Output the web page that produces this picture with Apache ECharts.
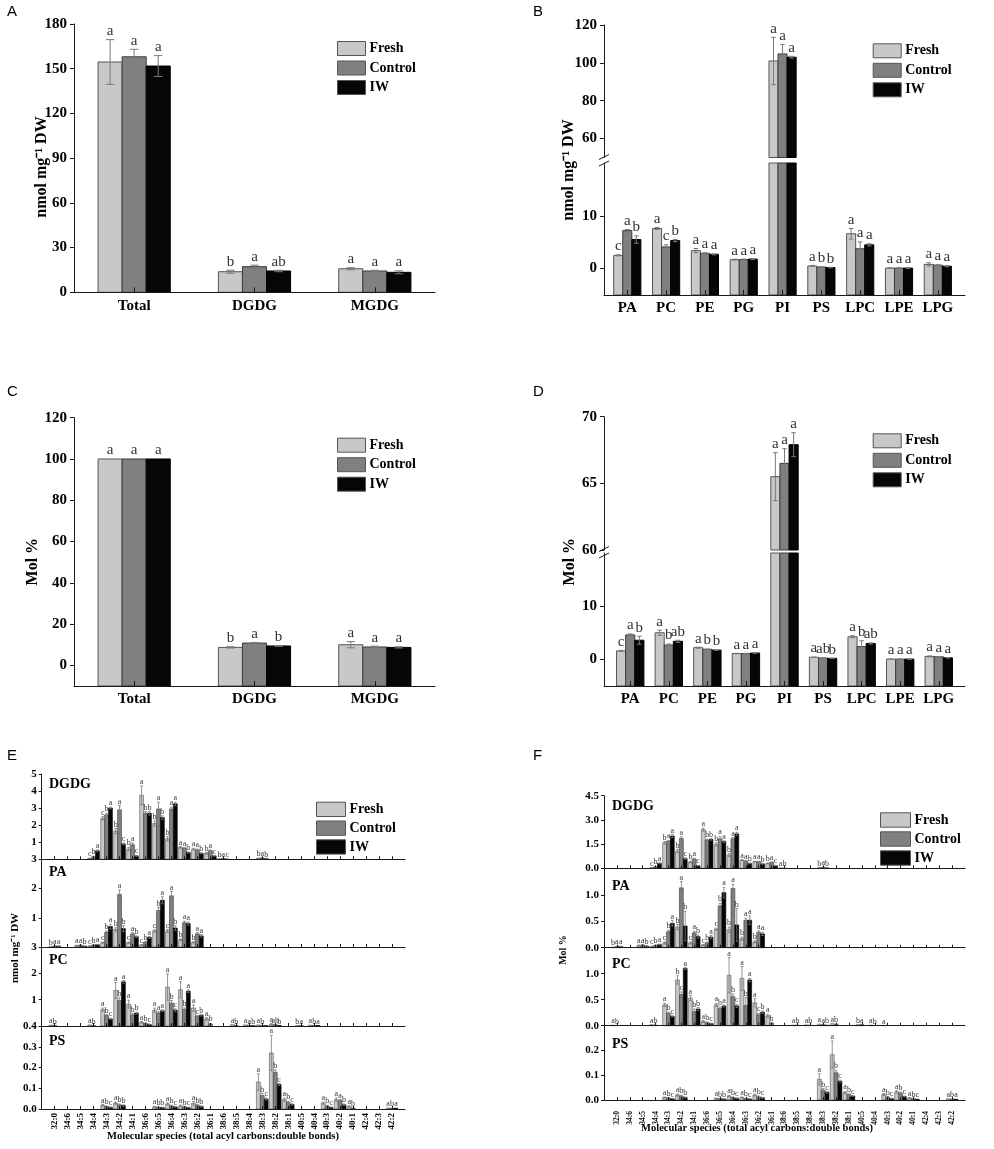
<!DOCTYPE html>
<html><head><meta charset="utf-8">
<script src="https://cdn.jsdelivr.net/npm/echarts@6/dist/echarts.min.js"></script>
<style>html,body{margin:0;padding:0;background:#fff}#c{width:994px;height:1149px}</style>
</head><body><div id="c"></div>
<script>
// ---------------- DATA ----------------
const TREAT = ['Fresh', 'Control', 'IW'];
const catsAC = ['Total', 'DGDG', 'MGDG'];
const catsBD = ['PA', 'PC', 'PE', 'PG', 'PI', 'PS', 'LPC', 'LPE', 'LPG'];
const species = ['32:0','34:6','34:5','34:4','34:3','34:2','34:1','36:6','36:5','36:4','36:3','36:2','36:1','38:6','38:5','38:4','38:3','38:2','38:1','40:5','40:4','40:3','40:2','40:1','42:4','42:3','42:2'];

// tick labels
const A_yTicks = [0, 30, 60, 90, 120, 150, 180];
const C_yTicks = [0, 20, 40, 60, 80, 100, 120];
const B_upTicks = [60, 80, 100, 120];
const B_lowTicks = [0, 10];
const D_upTicks = [60, 65, 70];
const D_lowTicks = [0, 10];

// Panel A (nmol mg-1 DW)
const A_fresh = [154.5, 13.8, 15.8], A_fresh_err = [15, 1, 0.7], A_fresh_let = ['a', 'b', 'a'];
const A_control = [158, 17.2, 14.3], A_control_err = [5, 1, 0.5], A_control_let = ['a', 'a', 'a'];
const A_iw = [151.8, 14.3, 13.4], A_iw_err = [7, 0.5, 1], A_iw_let = ['a', 'ab', 'a'];

// Panel C (Mol %)
const C_fresh = [100, 8.7, 10.0], C_fresh_err = [0, 0.3, 1.5], C_fresh_let = ['a', 'b', 'a'];
const C_control = [100, 10.8, 8.9], C_control_err = [0, 0.3, 0.4], C_control_let = ['a', 'a', 'a'];
const C_iw = [100, 9.4, 8.7], C_iw_err = [0, 0.2, 0.3], C_iw_let = ['a', 'b', 'a'];

// Panel B (nmol mg-1 DW)
const B_fresh = [2.5, 7.6, 3.4, 1.7, 101, 0.5, 6.6, 0.1, 0.8];
const B_control = [7.2, 4.1, 2.9, 1.7, 104.7, 0.3, 3.75, 0.1, 0.65];
const B_iw = [5.5, 5.3, 2.7, 1.8, 103, 0.2, 4.5, 0.1, 0.45];
const B_fresh_err = [0.1, 0.2, 0.4, 0.1, 12.5, 0.1, 1.0, 0.05, 0.3];
const B_control_err = [0.2, 0.4, 0.1, 0.1, 5, 0.05, 1.3, 0.05, 0.1];
const B_iw_err = [0.7, 0.2, 0.1, 0.1, 0.5, 0.05, 0.2, 0.05, 0.1];
const B_fresh_let = ['c', 'a', 'a', 'a', 'a', 'a', 'a', 'a', 'a'];
const B_control_let = ['a', 'c', 'a', 'a', 'a', 'b', 'a', 'a', 'a'];
const B_iw_let = ['b', 'b', 'a', 'a', 'a', 'b', 'a', 'a', 'a'];

// Panel D (Mol %)
const D_fresh = [1.6, 5.0, 2.2, 1.1, 65.5, 0.4, 4.25, 0.05, 0.56];
const D_control = [4.6, 2.7, 1.9, 1.1, 66.5, 0.25, 2.4, 0.05, 0.5];
const D_iw = [3.6, 3.4, 1.75, 1.2, 67.9, 0.2, 3.0, 0.05, 0.3];
const D_fresh_err = [0.1, 0.5, 0.1, 0.05, 1.8, 0.05, 0.2, 0.02, 0.1];
const D_control_err = [0.2, 0.2, 0.05, 0.05, 1.1, 0.05, 1.1, 0.02, 0.05];
const D_iw_err = [0.75, 0.2, 0.05, 0.05, 0.9, 0.03, 0.1, 0.02, 0.05];
const D_fresh_let = ['c', 'a', 'a', 'a', 'a', 'a', 'a', 'a', 'a'];
const D_control_let = ['a', 'b', 'b', 'a', 'a', 'ab', 'b', 'a', 'a'];
const D_iw_let = ['b', 'ab', 'b', 'a', 'a', 'b', 'ab', 'a', 'a'];

// Panel E (nmol mg-1 DW), molecular species
const E_DGDG_fresh   = [0,0,0,0.05,2.4,1.65,0.6,3.75,2.1,1.2,0.7,0.6,0.35,0.03,0,0,0.05,0,0,0,0,0,0,0,0,0,0];
const E_DGDG_control = [0,0,0,0.15,2.6,2.9,0.85,2.7,2.95,2.95,0.65,0.55,0.5,0.05,0,0,0.08,0,0,0,0,0,0,0,0,0,0];
const E_DGDG_iw      = [0,0,0,0.5,3.0,0.9,0.2,2.7,2.45,3.25,0.4,0.35,0.2,0.01,0,0,0.04,0,0,0,0,0,0,0,0,0,0];
const E_DGDG_fresh_err   = [0,0,0,0.02,0.1,0.15,0.1,0.55,0.15,0.12,0.05,0.05,0.05,0,0,0,0.02,0,0,0,0,0,0,0,0,0,0];
const E_DGDG_control_err = [0,0,0,0.03,0.1,0.25,0.1,0.1,0.4,0.1,0.03,0.05,0.05,0,0,0,0.02,0,0,0,0,0,0,0,0,0,0];
const E_DGDG_iw_err      = [0,0,0,0.05,0.05,0.05,0.03,0.1,0.1,0.1,0.03,0.03,0.02,0,0,0,0.01,0,0,0,0,0,0,0,0,0,0];
const E_DGDG_fresh_let   = ['','','','c','c','b','b','a','b','b','a','a','b','b','','','b','','','','','','','','','',''];
const E_DGDG_control_let = ['','','','b','b','a','a','b','a','a','a','a','a','a','','','a','','','','','','','','','',''];
const E_DGDG_iw_let      = ['','','','a','a','c','c','b','b','a','b','b','c','c','','','b','','','','','','','','','',''];

const E_PA_fresh   = [0.01,0,0.05,0.03,0.15,0.6,0.15,0.07,0.55,0.55,0.25,0.16,0,0,0,0,0,0,0,0,0,0,0,0,0,0,0];
const E_PA_control = [0.03,0,0.06,0.06,0.5,1.8,0.45,0.17,1.25,1.75,0.83,0.45,0,0,0,0,0,0,0,0,0,0,0,0,0,0,0];
const E_PA_iw      = [0.03,0,0.03,0.08,0.7,0.63,0.35,0.33,1.6,0.65,0.8,0.38,0,0,0,0,0,0,0,0,0,0,0,0,0,0,0];
const E_PA_fresh_err   = [0,0,0.01,0.01,0.02,0.06,0.02,0.01,0.04,0.05,0.03,0.02,0,0,0,0,0,0,0,0,0,0,0,0,0,0,0];
const E_PA_control_err = [0.01,0,0.01,0.01,0.05,0.15,0.04,0.02,0.1,0.15,0.05,0.04,0,0,0,0,0,0,0,0,0,0,0,0,0,0,0];
const E_PA_iw_err      = [0.01,0,0.01,0.01,0.08,0.1,0.03,0.03,0.12,0.08,0.05,0.04,0,0,0,0,0,0,0,0,0,0,0,0,0,0,0];
const E_PA_fresh_let   = ['b','','a','c','c','b','c','c','c','c','b','b','','','','','','','','','','','','','','',''];
const E_PA_control_let = ['a','','a','b','b','a','a','b','b','a','a','a','','','','','','','','','','','','','','',''];
const E_PA_iw_let      = ['a','','b','a','a','b','b','a','a','b','a','a','','','','','','','','','','','','','','',''];

const E_PC_fresh   = [0.03,0,0,0.04,0.62,1.35,0.83,0.14,0.6,1.48,1.38,0.68,0.27,0,0.05,0.04,0.04,0.07,0,0.01,0.03,0,0,0,0,0,0];
const E_PC_control = [0.02,0,0,0.02,0.4,0.97,0.42,0.1,0.49,0.87,0.62,0.36,0.08,0,0.02,0.02,0.02,0.05,0,0.02,0.02,0,0,0,0,0,0];
const E_PC_iw      = [0,0,0,0,0.27,1.68,0.49,0.06,0.58,0.6,1.32,0.41,0,0,0,0.01,0.01,0.02,0,0,0.02,0,0,0,0,0,0];
const E_PC_fresh_err   = [0,0,0,0,0.06,0.3,0.15,0.03,0.08,0.5,0.3,0.12,0.05,0,0,0,0,0.02,0,0,0,0,0,0,0,0,0];
const E_PC_control_err = [0,0,0,0,0.03,0.1,0.05,0.02,0.05,0.1,0.06,0.04,0.02,0,0,0,0,0,0,0,0,0,0,0,0,0,0];
const E_PC_iw_err      = [0,0,0,0,0.02,0.05,0.04,0.01,0.03,0.05,0.05,0.03,0,0,0,0,0,0,0,0,0,0,0,0,0,0,0];
const E_PC_fresh_let   = ['a','','','a','a','a','a','a','a','a','a','a','a','','a','a','a','a','','b','a','','','','','',''];
const E_PC_control_let = ['b','','','b','b','b','b','b','a','b','b','c','b','','b','a','b','ab','','a','b','','','','','',''];
const E_PC_iw_let      = ['','','','','c','a','b','c','a','c','a','b','','','','b','','b','','','a','','','','','',''];

const E_PS_fresh   = [0,0,0,0,0.018,0.028,0,0,0.01,0.025,0.015,0.028,0,0,0,0,0.13,0.27,0.045,0,0,0.028,0.045,0.012,0,0,0.005];
const E_PS_control = [0,0,0,0,0.012,0.02,0,0,0.008,0.015,0.01,0.018,0,0,0,0,0.065,0.177,0.032,0,0,0.015,0.04,0.005,0,0,0.004];
const E_PS_iw      = [0,0,0,0,0.008,0.017,0,0,0.007,0.01,0.007,0.012,0,0,0,0,0.048,0.118,0.022,0,0,0.008,0.02,0,0,0,0.004];
const E_PS_fresh_err   = [0,0,0,0,0.004,0.005,0,0,0.003,0.005,0.004,0.008,0,0,0,0,0.04,0.085,0.008,0,0,0.005,0.008,0.003,0,0,0];
const E_PS_control_err = [0,0,0,0,0.002,0.004,0,0,0.002,0.003,0.002,0.004,0,0,0,0,0.01,0.012,0.005,0,0,0.003,0.006,0,0,0,0];
const E_PS_iw_err      = [0,0,0,0,0.002,0.003,0,0,0.002,0.002,0.002,0.003,0,0,0,0,0.005,0.005,0.003,0,0,0.002,0.004,0,0,0,0];
const E_PS_fresh_let   = ['','','','','a','a','','','a','a','a','a','','','','','a','a','a','','','a','a','a','','','a'];
const E_PS_control_let = ['','','','','b','b','','','b','b','b','b','','','','','b','b','b','','','b','a','b','','','b'];
const E_PS_iw_let      = ['','','','','c','b','','','b','c','c','b','','','','','c','c','c','','','c','b','','','','a'];

// Panel F (Mol %), molecular species
const F_DGDG_fresh   = [0,0,0,0.03,1.58,1.07,0.39,2.4,1.48,0.82,0.51,0.41,0.3,0.02,0,0,0.03,0,0,0,0,0,0,0,0,0,0];
const F_DGDG_control = [0,0,0,0.1,1.68,1.85,0.57,1.75,1.83,1.83,0.45,0.41,0.37,0.01,0,0,0.06,0,0,0,0,0,0,0,0,0,0];
const F_DGDG_iw      = [0,0,0,0.31,2.0,0.6,0.16,1.79,1.66,2.13,0.3,0.27,0.16,0,0,0,0.02,0,0,0,0,0,0,0,0,0,0];
const F_DGDG_fresh_err   = [0,0,0,0.01,0.08,0.1,0.05,0.1,0.1,0.1,0.03,0.03,0.03,0,0,0,0.01,0,0,0,0,0,0,0,0,0,0];
const F_DGDG_control_err = [0,0,0,0.02,0.05,0.1,0.05,0.05,0.15,0.08,0.03,0.03,0.03,0,0,0,0.01,0,0,0,0,0,0,0,0,0,0];
const F_DGDG_iw_err      = [0,0,0,0.03,0.1,0.05,0.02,0.05,0.05,0.1,0.02,0.02,0.02,0,0,0,0.01,0,0,0,0,0,0,0,0,0,0];
const F_DGDG_fresh_let   = ['','','','c','b','b','b','a','b','b','a','a','b','a','','','b','','','','','','','','','',''];
const F_DGDG_control_let = ['','','','b','a','a','a','b','a','a','a','a','a','b','','','a','','','','','','','','','',''];
const F_DGDG_iw_let      = ['','','','a','a','c','c','b','a','a','b','b','c','','','','b','','','','','','','','','',''];

const F_PA_fresh   = [0.01,0,0.04,0.02,0.09,0.39,0.09,0.05,0.35,0.34,0.17,0.11,0,0,0,0,0,0,0,0,0,0,0,0,0,0,0];
const F_PA_control = [0.02,0,0.05,0.04,0.3,1.13,0.28,0.09,0.79,1.12,0.52,0.29,0,0,0,0,0,0,0,0,0,0,0,0,0,0,0];
const F_PA_iw      = [0.02,0,0.03,0.06,0.46,0.41,0.21,0.2,1.04,0.43,0.52,0.26,0,0,0,0,0,0,0,0,0,0,0,0,0,0,0];
const F_PA_fresh_err   = [0,0,0.01,0.01,0.02,0.05,0.02,0.01,0.02,0.05,0.03,0.02,0,0,0,0,0,0,0,0,0,0,0,0,0,0,0];
const F_PA_control_err = [0.01,0,0.01,0.01,0.03,0.12,0.03,0.02,0.05,0.08,0.04,0.03,0,0,0,0,0,0,0,0,0,0,0,0,0,0,0];
const F_PA_iw_err      = [0.01,0,0.01,0.01,0.05,0.28,0.03,0.03,0.1,0.31,0.08,0.03,0,0,0,0,0,0,0,0,0,0,0,0,0,0,0];
const F_PA_fresh_let   = ['b','','a','c','c','b','c','c','c','b','b','b','','','','','','','','','','','','','','',''];
const F_PA_control_let = ['a','','a','b','b','a','a','b','b','a','a','a','','','','','','','','','','','','','','',''];
const F_PA_iw_let      = ['a','','b','a','a','b','b','a','a','b','a','a','','','','','','','','','','','','','','',''];

const F_PC_fresh   = [0.01,0,0,0.02,0.4,0.88,0.53,0.08,0.4,0.97,0.91,0.44,0.19,0,0.01,0.015,0.03,0.04,0,0.02,0.01,0.005,0,0,0,0,0];
const F_PC_control = [0.005,0,0,0.01,0.24,0.6,0.27,0.06,0.33,0.56,0.39,0.21,0.05,0,0.01,0.01,0.02,0.03,0,0.02,0.005,0,0,0,0,0,0];
const F_PC_iw      = [0,0,0,0,0.18,1.1,0.32,0.04,0.38,0.38,0.88,0.26,0,0,0,0,0.01,0,0,0,0,0,0,0,0,0,0];
const F_PC_fresh_err   = [0,0,0,0,0.03,0.08,0.05,0.02,0.03,0.34,0.23,0.08,0.03,0,0,0,0,0,0,0,0,0,0,0,0,0,0];
const F_PC_control_err = [0,0,0,0,0.02,0.05,0.05,0.01,0.03,0.05,0.15,0.03,0.01,0,0,0,0,0,0,0,0,0,0,0,0,0,0];
const F_PC_iw_err      = [0,0,0,0,0.01,0.02,0.03,0.01,0.02,0.03,0.03,0.02,0,0,0,0,0,0,0,0,0,0,0,0,0,0,0];
const F_PC_fresh_let   = ['a','','','a','a','b','a','a','a','a','a','a','a','','a','a','a','a','','b','a','a','','','','',''];
const F_PC_control_let = ['b','','','b','b','c','b','b','b','b','b','c','b','','b','b','a','b','','a','b','','','','','',''];
const F_PC_iw_let      = ['','','','','c','a','b','c','a','c','a','b','','','','','b','','','','','','','','','',''];

const F_PS_fresh   = [0,0,0,0,0.01,0.02,0,0,0.006,0.016,0.01,0.02,0,0,0,0,0.084,0.183,0.03,0,0,0.022,0.033,0.008,0,0,0.005];
const F_PS_control = [0,0,0,0,0.008,0.016,0,0,0.005,0.01,0.006,0.013,0,0,0,0,0.04,0.11,0.022,0,0,0.012,0.028,0.005,0,0,0.004];
const F_PS_iw      = [0,0,0,0,0.005,0.01,0,0,0.004,0.007,0.004,0.009,0,0,0,0,0.031,0.076,0.016,0,0,0.006,0.014,0.003,0,0,0.003];
const F_PS_fresh_err   = [0,0,0,0,0.002,0.004,0,0,0.002,0.003,0.002,0.004,0,0,0,0,0.022,0.055,0.005,0,0,0.004,0.005,0.002,0,0,0];
const F_PS_control_err = [0,0,0,0,0.002,0.003,0,0,0.001,0.002,0.001,0.003,0,0,0,0,0.006,0.01,0.003,0,0,0.002,0.004,0,0,0,0];
const F_PS_iw_err      = [0,0,0,0,0.001,0.002,0,0,0.001,0.001,0.001,0.002,0,0,0,0,0.003,0.004,0.002,0,0,0.001,0.002,0,0,0,0];
const F_PS_fresh_let   = ['','','','','a','a','','','a','a','a','a','','','','','a','a','a','','','a','a','a','','','a'];
const F_PS_control_let = ['','','','','b','b','','','b','b','b','b','','','','','b','b','b','','','b','b','b','','','b'];
const F_PS_iw_let      = ['','','','','c','b','','','b','c','c','c','','','','','c','c','c','','','c','c','c','','','a'];

// ---------------- STYLE / BUILD ----------------
const SERIF = '"Liberation Serif","Times New Roman",serif';
const SANS = '"Liberation Sans",Arial,sans-serif';
const COL = {
  Fresh: { fill: '#c8c8c8', stroke: '#555' },
  Control: { fill: '#808080', stroke: '#3c3c3c' },
  IW: { fill: '#060606', stroke: '#000' }
};
const option = { animation: false, backgroundColor: '#fff', grid: [], xAxis: [], yAxis: [], series: [], legend: [], graphic: [] };
const idx = (arr) => arr.map((_, i) => i);

function panel(p) {
  const gi = option.grid.length;
  option.grid.push({ left: p.left, top: p.top, width: p.width, height: p.height });
  option.xAxis.push({
    type: 'value', gridIndex: gi, min: p.xMin, max: p.xMax, z: 5,
    axisLine: { show: p.xLine, onZero: false, lineStyle: { color: '#1a1a1a', width: 1 } },
    axisTick: { show: p.xLine, inside: true, length: p.xTickLen, customValues: p.xTicks, lineStyle: { color: '#1a1a1a' } },
    axisLabel: {
      show: !!p.xCats, customValues: p.xTicks, rotate: p.xRotate || 0, margin: p.xMargin,
      formatter: (v) => (p.xCats ? (p.xCats[Math.round(v)] || '') : ''),
      fontFamily: SERIF, fontWeight: 'bold', fontSize: p.xFont, color: '#000'
    },
    splitLine: { show: false }
  });
  option.yAxis.push({
    type: 'value', gridIndex: gi, min: p.yMin, max: p.yMax,
    axisLine: { show: true, onZero: false, lineStyle: { color: '#1a1a1a', width: 1 } },
    axisTick: { show: true, inside: false, length: p.yTickLen || 4, customValues: p.yTicks, lineStyle: { color: '#1a1a1a' } },
    axisLabel: { customValues: p.yLabels, formatter: p.yFmt, margin: p.yMargin, fontFamily: SERIF, fontWeight: 'bold', fontSize: p.yFont, color: '#000' },
    splitLine: { show: false }
  });
  TREAT.forEach((t, si) => {
    const s = p.series[si];
    option.series.push({
      type: 'custom', name: t, xAxisIndex: gi, yAxisIndex: gi, z: 2,
      itemStyle: { color: COL[t].fill },
      data: s.vals.map((v, i) => [i, v]),
      renderItem: function (params, api) {
        const i = params.dataIndex;
        const x = api.value(0), v = api.value(1);
        if (!(v > p.yMin)) return null;
        const unit = api.size([1, 0])[0];
        const gw = unit * p.groupWidth, bw = gw / 3;
        const basePt = api.coord([x, p.yMin]);
        const left = basePt[0] - gw / 2 + si * bw;
        const top = api.coord([x, Math.min(v, p.yMax)])[1];
        const kids = [{ type: 'rect', shape: { x: left, y: top, width: bw, height: basePt[1] - top },
          style: { fill: COL[t].fill, stroke: COL[t].stroke, lineWidth: p.lw } }];
        if (v <= p.yMax) {
          const cx = left + bw / 2;
          let ly = top;
          const e = s.errs[i];
          if (e > 0) {
            const yh = api.coord([x, Math.min(v + e, p.yMax)])[1];
            const yl = api.coord([x, Math.max(v - e, p.yMin)])[1];
            const cw = bw * p.capFrac / 2;
            const es = { stroke: '#7a7a7a', lineWidth: p.elw };
            kids.push({ type: 'line', shape: { x1: cx, y1: yl, x2: cx, y2: yh }, style: es });
            kids.push({ type: 'line', shape: { x1: cx - cw, y1: yh, x2: cx + cw, y2: yh }, style: es });
            kids.push({ type: 'line', shape: { x1: cx - cw, y1: yl, x2: cx + cw, y2: yl }, style: es });
            ly = yh;
          }
          const L = s.lets[i];
          if (L) kids.push({ type: 'text', x: cx, y: ly - p.letGap,
            style: { text: L, font: p.letFont + 'px ' + SERIF, fill: '#333',
              align: 'center', verticalAlign: 'bottom', textAlign: 'center', textVerticalAlign: 'bottom' } });
        }
        return { type: 'group', children: kids };
      }
    });
  });
}

function legendAt(left, top, w, h, gap, fs) {
  option.legend.push({
    left: left, top: top, orient: 'vertical', itemWidth: w, itemHeight: h, itemGap: gap,
    selectedMode: false, icon: 'rect', padding: 0,
    textStyle: { fontFamily: SERIF, fontWeight: 'bold', fontSize: fs, color: '#000', padding: [0, 0, 0, -1] },
    data: TREAT.map((t) => ({ name: t, icon: 'rect', itemStyle: { color: COL[t].fill, borderColor: '#555', borderWidth: 1 } }))
  });
}

function txt(x, y, text, font, opts) {
  option.graphic.push(Object.assign({
    type: 'text', x: x, y: y, z: 10,
    style: { text: text, font: font, fill: '#000', align: (opts && opts.align) || 'left', verticalAlign: (opts && opts.va) || 'middle',
      textAlign: (opts && opts.align) || 'left', textVerticalAlign: (opts && opts.va) || 'middle' }
  }, opts && opts.rot ? { rotation: Math.PI / 2 } : {}));
}
function seg(x1, y1, x2, y2, w) {
  option.graphic.push({ type: 'line', z: 10, shape: { x1, y1, x2, y2 }, style: { stroke: '#1a1a1a', lineWidth: w || 1 } });
}

const big = { xFont: 15, xMargin: 6, xTickLen: 5, yFont: 15, yMargin: 7, lw: 1, elw: 1, capFrac: 0.35, letFont: 15, letGap: 1, xLine: true };
const intFmt = (v) => String(v);

// Panel A
panel(Object.assign({}, big, {
  left: 74, top: 24, width: 361, height: 268.3, xMin: -0.5, xMax: 2.5, xTicks: idx(catsAC), xCats: catsAC,
  yMin: 0, yMax: 180, yTicks: A_yTicks, yLabels: A_yTicks, yFmt: intFmt, groupWidth: 0.6,
  series: [{ vals: A_fresh, errs: A_fresh_err, lets: A_fresh_let }, { vals: A_control, errs: A_control_err, lets: A_control_let }, { vals: A_iw, errs: A_iw_err, lets: A_iw_let }]
}));
// Panel C
panel(Object.assign({}, big, {
  left: 74, top: 417.7, width: 361, height: 268.3, xMin: -0.5, xMax: 2.5, xTicks: idx(catsAC), xCats: catsAC,
  yMin: -10, yMax: 120, yTicks: C_yTicks, yLabels: C_yTicks, yFmt: intFmt, groupWidth: 0.6,
  series: [{ vals: C_fresh, errs: C_fresh_err, lets: C_fresh_let }, { vals: C_control, errs: C_control_err, lets: C_control_let }, { vals: C_iw, errs: C_iw_err, lets: C_iw_let }]
}));
// Panel B (broken axis: upper + lower)
const B_series = [{ vals: B_fresh, errs: B_fresh_err, lets: B_fresh_let }, { vals: B_control, errs: B_control_err, lets: B_control_let }, { vals: B_iw, errs: B_iw_err, lets: B_iw_let }];
panel(Object.assign({}, big, {
  left: 604, top: 25, width: 361, height: 132.5, xMin: -0.6, xMax: 8.7, xTicks: idx(catsBD), xCats: null, xLine: false,
  yMin: 50, yMax: 120, yTicks: B_upTicks, yLabels: B_upTicks, yFmt: intFmt, groupWidth: 0.7, capFrac: 0.5, series: B_series
}));
panel(Object.assign({}, big, {
  left: 604, top: 163, width: 361, height: 132, xMin: -0.6, xMax: 8.7, xTicks: idx(catsBD), xCats: catsBD,
  yMin: -5, yMax: 20, yTicks: B_lowTicks, yLabels: B_lowTicks, yFmt: intFmt, groupWidth: 0.7, capFrac: 0.5, series: B_series
}));
// Panel D (broken axis)
const D_series = [{ vals: D_fresh, errs: D_fresh_err, lets: D_fresh_let }, { vals: D_control, errs: D_control_err, lets: D_control_let }, { vals: D_iw, errs: D_iw_err, lets: D_iw_let }];
panel(Object.assign({}, big, {
  left: 604, top: 416.7, width: 361, height: 133.3, xMin: -0.68, xMax: 8.68, xTicks: idx(catsBD), xCats: null, xLine: false,
  yMin: 60, yMax: 70, yTicks: D_upTicks, yLabels: D_upTicks, yFmt: intFmt, groupWidth: 0.71, capFrac: 0.5, series: D_series
}));
panel(Object.assign({}, big, {
  left: 604, top: 553, width: 361, height: 133, xMin: -0.68, xMax: 8.68, xTicks: idx(catsBD), xCats: catsBD,
  yMin: -5, yMax: 20, yTicks: D_lowTicks, yLabels: D_lowTicks, yFmt: intFmt, groupWidth: 0.71, capFrac: 0.5, series: D_series
}));

// Panels E and F (stacked sub-panels)
const small = { xFont: 9, xMargin: 4, xTickLen: 3, yFont: 11, yMargin: 5, yTickLen: 3, lw: 0.6, elw: 0.8, capFrac: 0.7, letFont: 8, letGap: 0, xLine: true, groupWidth: 0.9, xMin: -1, xMax: 27, xTicks: idx(species) };
const f1 = (v) => v.toFixed(1);
const E_sub = [
  { top: 774, height: 85.3, yMax: 5, yTicks: [0, 1, 2, 3, 4, 5], yLabels: [1, 2, 3, 4, 5], yFmt: intFmt,
    s: [[E_DGDG_fresh, E_DGDG_fresh_err, E_DGDG_fresh_let], [E_DGDG_control, E_DGDG_control_err, E_DGDG_control_let], [E_DGDG_iw, E_DGDG_iw_err, E_DGDG_iw_let]] },
  { top: 859.3, height: 87.7, yMax: 3, yTicks: [0, 1, 2, 3], yLabels: [1, 2, 3], yFmt: intFmt,
    s: [[E_PA_fresh, E_PA_fresh_err, E_PA_fresh_let], [E_PA_control, E_PA_control_err, E_PA_control_let], [E_PA_iw, E_PA_iw_err, E_PA_iw_let]] },
  { top: 947, height: 79, yMax: 3, yTicks: [0, 1, 2, 3], yLabels: [1, 2, 3], yFmt: intFmt,
    s: [[E_PC_fresh, E_PC_fresh_err, E_PC_fresh_let], [E_PC_control, E_PC_control_err, E_PC_control_let], [E_PC_iw, E_PC_iw_err, E_PC_iw_let]] },
  { top: 1026, height: 83, yMax: 0.4, yTicks: [0, 0.1, 0.2, 0.3, 0.4], yLabels: [0, 0.1, 0.2, 0.3, 0.4], yFmt: f1, last: true,
    s: [[E_PS_fresh, E_PS_fresh_err, E_PS_fresh_let], [E_PS_control, E_PS_control_err, E_PS_control_let], [E_PS_iw, E_PS_iw_err, E_PS_iw_let]] }
];
E_sub.forEach((q) => panel(Object.assign({}, small, {
  left: 41.7, width: 363.3, top: q.top, height: q.height, yMin: 0, yMax: q.yMax, yTicks: q.yTicks, yLabels: q.yLabels, yFmt: q.yFmt,
  xCats: q.last ? species : null, xRotate: 90,
  series: q.s.map((a) => ({ vals: a[0], errs: a[1], lets: a[2] }))
})));
const F_sub = [
  { top: 795.7, height: 72.6, yMax: 4.5, yTicks: [0, 1.5, 3, 4.5], yLabels: [0, 1.5, 3, 4.5],
    s: [[F_DGDG_fresh, F_DGDG_fresh_err, F_DGDG_fresh_let], [F_DGDG_control, F_DGDG_control_err, F_DGDG_control_let], [F_DGDG_iw, F_DGDG_iw_err, F_DGDG_iw_let]] },
  { top: 868.3, height: 79.4, yMax: 1.5, yTicks: [0, 0.5, 1, 1.5], yLabels: [0, 0.5, 1],
    s: [[F_PA_fresh, F_PA_fresh_err, F_PA_fresh_let], [F_PA_control, F_PA_control_err, F_PA_control_let], [F_PA_iw, F_PA_iw_err, F_PA_iw_let]] },
  { top: 947.7, height: 78, yMax: 1.5, yTicks: [0, 0.5, 1, 1.5], yLabels: [0, 0.5, 1],
    s: [[F_PC_fresh, F_PC_fresh_err, F_PC_fresh_let], [F_PC_control, F_PC_control_err, F_PC_control_let], [F_PC_iw, F_PC_iw_err, F_PC_iw_let]] },
  { top: 1025.7, height: 74.3, yMax: 0.3, yTicks: [0, 0.1, 0.2, 0.3], yLabels: [0, 0.1, 0.2], last: true,
    s: [[F_PS_fresh, F_PS_fresh_err, F_PS_fresh_let], [F_PS_control, F_PS_control_err, F_PS_control_let], [F_PS_iw, F_PS_iw_err, F_PS_iw_let]] }
];
F_sub.forEach((q) => panel(Object.assign({}, small, {
  left: 604, width: 361, top: q.top, height: q.height, yMin: 0, yMax: q.yMax, yTicks: q.yTicks, yLabels: q.yLabels, yFmt: f1,
  xCats: q.last ? species : null, xRotate: 90, xFont: 7.5, xMargin: 11,
  series: q.s.map((a) => ({ vals: a[0], errs: a[1], lets: a[2] }))
})));

// Legends
legendAt(337, 41, 28, 14, 4.5, 14);
legendAt(872.7, 43.3, 28, 14, 4.5, 14);
legendAt(337, 437.7, 28, 14, 4.5, 14);
legendAt(872.7, 433.3, 28, 14, 4.5, 14);
legendAt(316, 801.7, 29, 14.3, 3.5, 14);
legendAt(880, 812.3, 30, 14.4, 3.6, 14);

// Panel letters
const PL = '15px ' + SANS;
txt(7, 12, 'A', PL); txt(533, 12, 'B', PL); txt(7, 392, 'C', PL); txt(533, 392, 'D', PL); txt(7, 756, 'E', PL); txt(533, 756, 'F', PL);
// Axis titles
const TB16 = 'bold 16px ' + SERIF;
txt(42, 167, 'nmol mg\u207B\u00B9 DW', TB16, { align: 'center', rot: true });
txt(32.5, 561.7, 'Mol %', TB16, { align: 'center', rot: true });
txt(569, 170, 'nmol mg\u207B\u00B9 DW', TB16, { align: 'center', rot: true });
txt(569.5, 561.7, 'Mol %', TB16, { align: 'center', rot: true });
txt(15, 948, 'nmol mg\u207B\u00B9 DW', 'bold 11px ' + SERIF, { align: 'center', rot: true });
txt(563, 950, 'Mol %', 'bold 10px ' + SERIF, { align: 'center', rot: true });
const XT = 'Molecular species (total acyl carbons:double bonds)';
txt(223, 1136, XT, 'bold 10.5px ' + SERIF, { align: 'center' });
txt(757, 1128, XT, 'bold 10.5px ' + SERIF, { align: 'center' });
// Sub-panel titles
const T14 = 'bold 14px ' + SERIF;
[['DGDG', 784], ['PA', 872], ['PC', 960], ['PS', 1041]].forEach((a) => txt(49, a[1], a[0], T14));
[['DGDG', 806], ['PA', 886], ['PC', 964], ['PS', 1044]].forEach((a) => txt(612, a[1], a[0], T14));
// Axis-break marks
seg(599, 159.5, 609, 154.5); seg(599, 166, 609, 161);
seg(599, 551.5, 609, 546.5); seg(599, 558, 609, 553);

const chart = echarts.init(document.getElementById('c'), null, { renderer: 'canvas' });
chart.setOption(option);
</script>
</body></html>
